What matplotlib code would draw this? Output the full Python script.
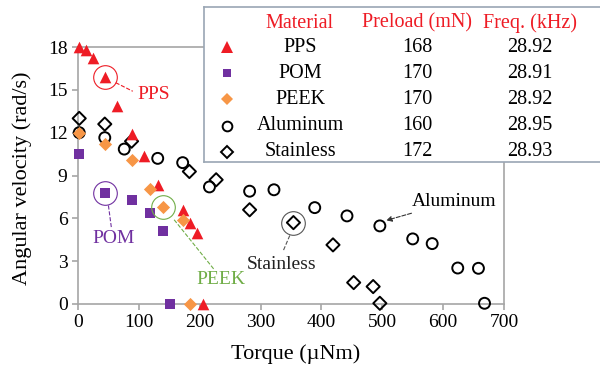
import matplotlib.pyplot as plt

plt.rcParams['font.family'] = ['Liberation Serif', 'DejaVu Serif']

# data (torque in uNm, angular velocity in rad/s)
pps_x = [2, 13, 24, 44, 64, 88, 109, 131, 172, 184, 195, 205]
pps_y = [18.0, 17.8, 17.2, 15.9, 13.9, 11.9, 10.4, 8.3, 6.6, 5.7, 4.95, 0]

pom_x = [2, 44, 88, 119, 140, 151]
pom_y = [10.5, 7.75, 7.25, 6.35, 5.1, 0]

peek_x = [2, 44, 88, 119, 140, 172, 184]
peek_y = [12.0, 11.2, 10.1, 8.05, 6.8, 5.85, 0]

alu_x = [2, 44, 76, 131, 172, 216, 282, 322, 389, 442, 496, 550, 582, 624, 658, 668]
alu_y = [12.0, 11.65, 10.85, 10.2, 9.9, 8.2, 7.9, 8.0, 6.75, 6.17, 5.47, 4.56, 4.23, 2.52, 2.5, 0.05]

sst_x = [2, 44, 88, 183, 227, 282, 354, 419, 453, 485, 496]
sst_y = [13.0, 12.6, 11.4, 9.28, 8.7, 6.6, 5.7, 4.14, 1.5, 1.22, 0.05]

materials = ['PPS', 'POM', 'PEEK', 'Aluminum', 'Stainless']
preload = ['168', '170', '170', '160', '172']
freq = ['28.92', '28.91', '28.92', '28.95', '28.93']

red = '#ee1c25'
purple = '#7030a0'
orange = '#f79646'
green = '#70ad47'
gray = '#a6a6a6'

fig = plt.figure(figsize=(6, 3.69), dpi=100)
ax = fig.add_axes([78/600, 1-304/369, 426/600, 257/369])

ax.scatter(alu_x, alu_y, s=62, facecolors='none', edgecolors='black', linewidths=1.4, zorder=3, clip_on=False)
ax.scatter(sst_x, sst_y, s=45, marker='D', facecolors='none', edgecolors='black', linewidths=1.4, zorder=3, clip_on=False)
ax.scatter(pps_x, pps_y, s=70, marker='^', color=red, zorder=4, clip_on=False, linewidths=0)
ax.scatter(pom_x, pom_y, s=50, marker='s', color=purple, zorder=4, clip_on=False, linewidths=0)
ax.scatter(peek_x, peek_y, s=45, marker='D', color=orange, zorder=4, clip_on=False, linewidths=0)

ax.set_xlim(0, 700)
ax.set_ylim(0, 18)
ax.set_xticks(range(0, 701, 100))
ax.set_yticks(range(0, 19, 3))
for sp in ax.spines.values():
    sp.set_color(gray)
    sp.set_linewidth(1.2)
ax.tick_params(colors=gray, labelcolor='black', labelsize=14, length=4, width=1.2)
ax.set_xlabel('Torque (µNm)', fontsize=16)
ax.set_ylabel('Angular velocity (rad/s)', fontsize=16)
ax.xaxis.set_label_coords(0.51, -0.155)
ax.yaxis.set_label_coords(-0.108, 0.49)

# circled annotations
def callout(px, py, color, tx, ty, lx, ly, text, ha='center', tcolor=None):
    ax.plot(px, py, 'o', ms=17, mfc='none', mec=color, mew=0.8, zorder=5, clip_on=False)
    ax.plot(lx, ly, '--', color=color, lw=0.8, zorder=5)
    ax.text(tx, ty, text, color=tcolor or color, fontsize=14, ha=ha, va='center')

callout(pps_x[3], pps_y[3], red, 97, 14.7, [62, 90], [15.5, 14.9], 'PPS', ha='left')
callout(pom_x[1], pom_y[1], purple, 58, 4.6, [50, 55], [6.9, 5.3], 'POM')
callout(peek_x[4], peek_y[4], green, 234, 1.7, [158, 224], [5.9, 2.4], 'PEEK')
callout(sst_x[6], sst_y[6], '#555555', 334, 2.8, [348, 337], [4.8, 3.7], 'Stainless', tcolor='#222222')

ax.annotate('Aluminum', xy=(502, 5.8), xytext=(548, 7.2), fontsize=14, va='center', ha='left',
            arrowprops=dict(arrowstyle='-|>', linestyle='--', color='#333333', lw=0.8, mutation_scale=8))

# legend table
lg = fig.add_axes([204/600, 1-162/369, 400/600, 155/369])
lg.set_xlim(0, 1)
lg.set_ylim(0, 1)
lg.set_xticks([])
lg.set_yticks([])
lg.set_facecolor('white')
for sp in lg.spines.values():
    sp.set_color('#9aa6b4')
    sp.set_linewidth(1.2)
lg.spines['right'].set_visible(False)

col_x = [(300-204)/400, (417-204)/400, (530-204)/400]
mk_x = (227-204)/400
head_y = 1 - (23-7)/155
row_y = [1 - (p-7)/155 for p in [47, 73, 99, 126, 152]]
for cx, h in zip(col_x, ['Material', 'Preload (mN)', 'Freq. (kHz)']):
    lg.text(cx, head_y, h, color=red, fontsize=14.5, ha='center', va='center')

styles = [
    dict(marker='^', color=red, ms=8, ls='none', mew=0),
    dict(marker='s', color=purple, ms=6, ls='none', mew=0),
    dict(marker='D', color=orange, ms=6, ls='none', mew=0),
    dict(marker='o', mfc='none', mec='black', ms=7, ls='none', mew=1.4),
    dict(marker='D', mfc='none', mec='black', ms=6, ls='none', mew=1.4),
]
for y, m, p, f, st in zip(row_y, materials, preload, freq, styles):
    lg.plot([mk_x], [y], **st)
    lg.text(col_x[0], y, m, fontsize=14.5, ha='center', va='center')
    lg.text(col_x[1], y, p, fontsize=14.5, ha='center', va='center')
    lg.text(col_x[2], y, f, fontsize=14.5, ha='center', va='center')

fig.savefig('out.png', dpi=100)
